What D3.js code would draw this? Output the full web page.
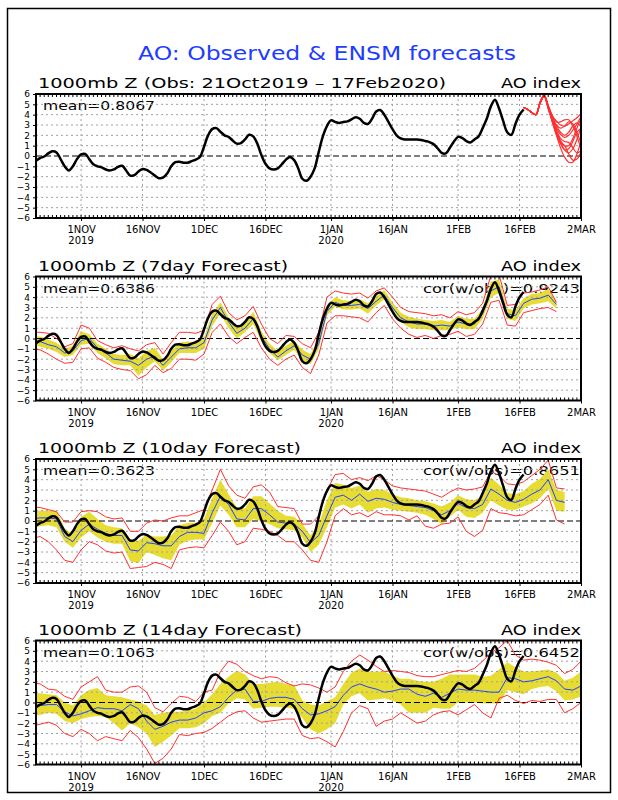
<!DOCTYPE html>
<html>
<head>
<meta charset="utf-8">
<script src="https://cdn.jsdelivr.net/npm/d3@7"></script>
<style>
  body { margin: 0; background: #fff; }
  svg { display: block; }
  text { font-family: "DejaVu Sans", sans-serif; }
</style>
</head>
<body>
<svg id="chart"></svg>
<script>
// ---- data ----
const startDate = new Date(2019, 9, 21);
const endDate = new Date(2020, 2, 2);

// observed daily AO index, 21Oct2019 .. 17Feb2020
const obsAO = [
  -0.45, -0.2, -0.05, 0.25, 0.45, 0.35, -0.3, -1.0, -1.4, -1.0,
  -0.3, 0.15, 0.2, -0.3, -0.8, -1.0, -1.1, -1.3, -1.4, -1.3,
  -1.05, -0.95, -1.4, -1.9, -1.85, -1.5, -1.25, -1.35, -1.6, -1.9,
  -2.15, -2.1, -1.7, -1.0, -0.6, -0.55, -0.65, -0.65, -0.5, -0.35,
  -0.1, 0.9, 2.0, 2.6, 2.7, 2.35, 2.0, 1.85, 1.5, 1.2,
  1.25, 1.6, 2.05, 1.9, 1.2, 0.1, -0.75, -1.2, -1.3, -1.2,
  -0.8, -0.35, -0.1, -0.4, -1.2, -2.2, -2.4, -2.0, -1.2, 0.4,
  1.9, 2.9, 3.45, 3.3, 3.2, 3.3, 3.35, 3.55, 3.75, 3.6,
  3.2, 3.1, 3.6, 4.3, 4.45, 4.0, 3.3, 2.6, 2.0, 1.7,
  1.6, 1.6, 1.6, 1.6, 1.55, 1.45, 1.35, 1.15, 0.75, 0.3,
  0.25, 0.8, 1.4, 1.85, 1.75, 1.45, 1.3, 1.6, 1.9, 2.7,
  3.6, 4.8, 5.45, 4.6, 3.4, 2.3, 2.05, 3.1, 4.0, 4.5
];

// ensemble members of the latest forecast, 17Feb .. 2Mar
const memberAO = [
  [4.7, 4.5, 4.2, 4.0, 5.2, 5.9, 4.9, 3.9, 3.4, 3.0, 2.9, 3.1, 3.4, 3.7, 4.1],
  [4.7, 4.5, 4.2, 4.0, 5.1, 5.9, 4.8, 3.6, 2.7, 2.1, 1.8, 2.0, 2.5, 3.1, 3.8],
  [4.7, 4.5, 4.2, 4.0, 5.1, 5.8, 4.7, 3.4, 2.3, 1.3, 0.6, 0.3, 0.7, 1.6, 2.8],
  [4.7, 4.5, 4.2, 4.0, 5.1, 5.8, 4.6, 3.3, 2.0, 0.8, -0.1, -0.6, -0.6, 0.2, 1.4],
  [4.7, 4.5, 4.2, 4.0, 5.2, 5.9, 4.8, 3.7, 3.0, 2.7, 2.9, 3.3, 3.1, 2.3, 1.2],
  [4.7, 4.5, 4.2, 4.0, 5.2, 5.9, 4.9, 3.9, 3.3, 3.3, 3.5, 3.5, 2.9, 1.9, 0.7],
  [4.7, 4.5, 4.2, 4.0, 5.1, 5.8, 4.6, 3.4, 2.2, 1.2, 0.6, 0.7, 1.4, 2.3, 2.7],
  [4.7, 4.5, 4.2, 4.0, 5.1, 5.8, 4.7, 3.5, 2.5, 1.7, 1.4, 1.3, 0.8, 0.3, 0.5],
  [4.7, 4.5, 4.2, 4.0, 5.2, 5.9, 4.8, 3.8, 2.9, 2.3, 2.0, 2.3, 2.9, 3.2, 2.8],
  [4.7, 4.5, 4.2, 4.0, 5.1, 5.8, 4.7, 3.5, 2.4, 1.5, 1.0, 1.0, 1.7, 2.7, 3.6],
  [4.7, 4.5, 4.2, 4.0, 5.1, 5.8, 4.6, 3.3, 2.1, 1.3, 1.0, 0.2, -0.4, -0.3, 0.4]
];

// forecasts: one value every second day, first value on 20Oct2019
const fc7Mean = [-0.2, -0.3, -0.6, -0.8, -1.4, -1.2, -0.2, 0.0, -0.9, -1.4, -2.0, -2.1, -2.2, -2.6, -2.0, -1.7, -2.6, -1.8, -1.0, -0.9, -0.9, -0.4, 1.8, 3.0, 1.6, 0.5, 1.0, 1.9, 0.2, -1.0, -1.8, -1.2, -0.7, -1.6, -2.0, -0.5, 2.6, 3.5, 3.2, 3.2, 3.3, 2.9, 3.6, 4.2, 3.0, 2.0, 1.6, 1.4, 1.4, 1.2, 1.3, 1.2, 1.6, 1.4, 1.4, 2.4, 4.6, 5.0, 2.4, 2.2, 3.4, 3.8, 3.9, 4.2, 3.3];
const fc7SdLo = [-0.6, -0.8, -1.0, -1.3, -1.8, -1.6, -0.6, -0.5, -1.4, -1.9, -2.5, -2.6, -2.6, -3.6, -2.8, -2.2, -3.1, -2.3, -1.4, -1.4, -1.4, -1.0, 1.2, 2.4, 1.0, 0.0, 0.6, 1.4, -0.3, -1.4, -2.1, -1.6, -1.1, -2.2, -2.5, -1.0, 2.2, 3.1, 2.8, 2.8, 2.9, 2.4, 3.2, 3.8, 2.6, 1.6, 1.1, 0.9, 0.9, 0.8, 0.8, 0.8, 1.1, 0.9, 0.9, 1.9, 4.0, 4.4, 1.9, 1.7, 2.9, 3.3, 3.4, 3.6, 2.9];
const fc7SdHi = [0.2, 0.2, -0.1, -0.4, -1.0, -0.7, 0.7, 0.4, -0.5, -1.0, -1.5, -1.6, -1.5, -1.9, -1.2, -0.9, -2.0, -1.2, -0.4, -0.3, -0.4, 0.1, 2.4, 3.5, 2.1, 1.1, 1.5, 2.6, 0.7, -0.5, -1.2, -0.7, -0.2, -1.1, -1.5, 0.0, 3.2, 4.0, 3.7, 3.6, 3.8, 3.4, 4.1, 4.7, 3.5, 2.5, 2.1, 1.9, 1.8, 1.7, 1.8, 1.6, 2.2, 1.9, 1.9, 2.9, 5.5, 5.7, 2.9, 2.7, 3.9, 4.3, 4.4, 4.8, 3.6];
const fc7Min = [-1.0, -1.1, -1.5, -2.0, -2.4, -2.3, -1.0, -0.9, -1.9, -2.3, -2.8, -3.0, -3.1, -3.9, -3.5, -2.6, -3.3, -2.9, -2.0, -2.0, -2.1, -1.5, 0.6, 1.4, 0.2, -0.5, 0.1, 0.6, -0.9, -2.0, -2.6, -2.0, -1.6, -2.8, -3.4, -1.6, 1.5, 2.2, 2.2, 2.1, 2.0, 1.6, 2.5, 3.2, 1.9, 1.0, 0.4, 0.1, 0.3, 0.0, 0.3, 0.4, 0.7, 0.2, 0.4, 1.4, 3.5, 3.7, 1.3, 1.2, 2.5, 2.7, 2.9, 3.0, 2.6];
const fc7Max = [0.6, 0.6, 0.5, 0.0, -0.8, -0.5, 1.3, 1.0, -0.2, -0.6, -0.9, -0.7, -1.0, -1.2, -0.6, -0.4, -1.5, -0.4, 0.6, 0.6, 0.5, 0.8, 3.3, 4.1, 2.5, 1.8, 2.2, 3.1, 1.4, 0.0, -0.5, 0.3, 0.2, -0.5, -0.9, 0.6, 4.0, 4.6, 4.4, 4.3, 4.4, 3.9, 4.6, 4.9, 4.0, 3.0, 2.6, 2.5, 2.4, 2.2, 2.3, 2.0, 2.6, 2.3, 2.5, 3.4, 6.1, 6.2, 3.2, 3.3, 4.4, 4.5, 4.7, 5.0, 3.5];

const fc10Mean = [0.2, 0.3, 0.3, 0.2, -1.5, -2.0, -0.9, -0.3, -0.8, -1.2, -1.4, -1.4, -2.8, -2.9, -2.1, -2.2, -2.4, -2.4, -1.5, -1.1, -1.1, -1.2, 0.8, 2.4, 1.6, 0.2, 0.1, 1.2, 1.2, 0.6, -0.1, -0.2, -0.3, -1.0, -2.1, -1.4, 0.5, 2.3, 2.5, 2.0, 2.6, 1.9, 2.2, 2.1, 1.8, 1.6, 1.5, 1.4, 1.3, 1.0, 0.6, 1.0, 1.7, 1.3, 1.2, 1.6, 3.1, 2.6, 2.0, 1.8, 2.1, 2.6, 3.0, 4.0, 2.0, 1.8];
const fc10SdLo = [-0.6, -0.5, -0.4, -0.6, -2.0, -2.6, -1.6, -1.0, -1.6, -2.0, -2.2, -2.2, -3.9, -4.1, -3.0, -3.3, -3.6, -3.8, -2.3, -1.9, -1.8, -1.8, -0.2, 1.5, 0.6, -0.6, -0.6, 0.2, 0.0, -0.3, -0.7, -0.8, -0.9, -1.6, -3.0, -2.3, -0.6, 1.3, 1.6, 1.2, 1.6, 0.8, 1.2, 1.3, 1.1, 1.0, 0.9, 0.8, 0.6, 0.2, -0.3, 0.4, 1.1, 0.4, 0.3, 0.8, 2.0, 1.5, 1.1, 1.1, 1.4, 1.7, 2.2, 3.1, 1.0, 0.9];
const fc10SdHi = [1.0, 1.0, 1.0, 1.0, -0.7, -1.3, 0.4, 0.9, 0.2, -0.4, -0.6, -0.7, -1.8, -1.9, -1.3, -1.5, -1.5, -1.4, -0.4, -0.2, -0.2, 0.2, 2.2, 4.0, 2.6, 1.3, 1.2, 2.4, 2.4, 1.7, 1.0, 0.5, 0.4, -0.3, -1.4, -0.3, 2.0, 3.7, 3.5, 3.2, 3.4, 2.8, 3.1, 3.0, 2.6, 2.3, 2.2, 2.0, 1.9, 1.7, 1.4, 1.8, 2.5, 2.1, 2.0, 2.5, 4.2, 3.5, 2.7, 2.6, 2.9, 3.6, 4.1, 5.0, 3.0, 2.8];
const fc10Min = [-1.7, -1.5, -2.0, -2.8, -3.8, -4.0, -2.8, -2.0, -2.3, -2.9, -3.1, -3.0, -4.6, -4.5, -4.4, -4.0, -4.2, -4.6, -2.8, -2.6, -2.5, -2.6, -1.4, -0.1, -1.0, -2.3, -2.0, -0.7, -0.8, -1.0, -1.4, -2.0, -2.0, -2.8, -3.8, -4.0, -2.0, 0.5, 1.2, 0.6, 0.8, 0.4, 0.9, 0.6, 0.6, 0.5, 0.1, 0.5, -0.5, -0.7, -0.3, -0.2, 0.4, -1.0, -1.5, -0.9, 1.2, 0.8, 0.7, 0.5, 0.6, 1.1, 1.6, 2.5, 0.1, -0.3];
const fc10Max = [1.4, 1.3, 1.1, 0.9, -0.1, -0.1, 0.9, 1.0, 0.9, 0.4, 0.2, 0.3, -1.0, -1.0, -0.2, 0.1, 0.0, 0.3, 0.5, 0.5, 0.8, 1.1, 3.0, 5.0, 3.4, 2.5, 2.2, 3.3, 3.5, 2.8, 1.4, 1.3, 1.2, -0.3, -0.3, 0.5, 3.0, 4.5, 4.6, 4.0, 4.2, 3.9, 4.4, 4.0, 3.4, 3.2, 3.1, 3.0, 2.9, 2.6, 2.3, 2.8, 3.2, 3.0, 3.1, 3.3, 4.8, 4.4, 3.6, 3.5, 3.8, 4.4, 5.0, 5.9, 3.2, 3.1];

const fc14Mean = [-0.3, -0.3, -0.2, -0.2, -0.9, -1.3, -1.1, -0.8, -0.5, -0.6, -0.6, -0.8, -0.2, -0.6, -1.8, -2.6, -2.3, -1.9, -1.7, -1.7, -1.5, -1.0, -0.8, -0.4, 0.5, 1.2, 1.3, 0.1, 0.1, 0.4, 0.5, 0.5, 0.3, -0.6, -1.2, -1.1, -0.8, -0.4, 0.7, 1.5, 1.8, 1.5, 1.3, 1.0, 1.1, 1.3, 1.3, 0.8, 0.6, 0.9, 0.5, 0.9, 1.3, 1.2, 1.2, 1.1, 1.0, 1.0, 2.4, 2.3, 2.0, 2.1, 2.3, 2.5, 2.1, 1.3, 1.2, 1.6];
const fc14SdLo = [-1.2, -1.2, -1.0, -1.1, -1.8, -2.0, -1.6, -1.4, -1.3, -1.4, -2.0, -2.7, -2.0, -2.4, -3.0, -4.3, -3.8, -3.2, -2.5, -2.5, -2.4, -2.0, -1.3, -1.0, -0.1, 0.4, 0.3, -0.6, -0.5, -0.4, -0.4, -0.5, -0.6, -1.5, -2.6, -3.0, -2.6, -2.0, -0.2, 0.6, 0.9, 0.2, 0.3, 0.4, 0.2, -0.2, -1.0, -1.0, -1.0, -0.5, -0.6, -0.6, 0.0, 0.0, 0.0, -0.1, -0.1, -0.1, 1.2, 1.0, 0.8, 1.3, 1.5, 1.6, 1.1, 0.2, 0.3, 0.6];
const fc14SdHi = [0.9, 0.9, 0.8, 0.7, 0.0, -0.3, 0.7, 1.2, 1.4, 0.7, 0.6, 0.5, 0.3, 0.1, -0.3, -1.2, -1.0, -0.9, -0.9, -0.8, -0.6, 0.0, 0.8, 1.8, 2.5, 3.1, 2.7, 1.8, 1.8, 1.9, 2.0, 1.8, 1.7, 0.2, -0.2, -0.3, 0.1, 0.5, 1.8, 2.9, 3.3, 3.0, 3.0, 3.0, 2.6, 2.3, 2.3, 2.1, 2.0, 2.0, 2.3, 2.7, 2.7, 2.7, 2.7, 2.5, 2.6, 3.2, 3.9, 3.4, 3.0, 3.0, 3.1, 3.2, 2.9, 2.1, 2.4, 3.0];
const fc14Min = [-2.3, -2.1, -1.9, -2.2, -3.0, -3.3, -2.6, -3.0, -3.7, -3.3, -3.5, -3.7, -2.7, -3.4, -4.5, -5.9, -5.4, -4.5, -3.1, -3.2, -3.0, -2.9, -2.5, -1.9, -1.3, -0.9, -0.8, -1.5, -1.9, -1.8, -1.7, -1.6, -1.6, -3.2, -3.5, -3.4, -3.8, -4.3, -2.8, -1.0, -0.3, -0.6, -2.3, -1.8, -1.6, -1.0, -1.5, -2.0, -1.8, -1.2, -0.9, -0.8, -1.2, -0.7, -0.2, -1.0, -1.5, 0.4, 0.7, 0.2, -0.1, 0.2, 0.1, 0.3, 0.3, -1.0, -0.6, 0.0];
const fc14Max = [1.9, 1.8, 1.3, 1.2, 0.6, 0.3, 1.5, 2.0, 2.5, 1.2, 1.0, 1.0, 1.5, 1.6, 1.0, -0.5, -0.9, -0.1, 0.6, 0.5, 0.1, 1.0, 1.2, 3.0, 4.0, 3.7, 3.0, 2.6, 2.3, 2.5, 2.4, 1.9, 1.6, 1.8, 1.7, 1.4, 1.0, 1.5, 3.0, 4.0, 4.6, 4.1, 3.5, 3.0, 3.1, 3.0, 2.9, 2.6, 2.5, 2.5, 2.7, 2.9, 3.1, 3.0, 3.3, 4.0, 4.8, 5.3, 6.0, 4.6, 4.1, 4.2, 4.1, 3.9, 3.6, 2.8, 3.2, 4.0];

const panelTitles = [
  "1000mb Z (Obs: 21Oct2019 \u2013 17Feb2020)",
  "1000mb Z (7day Forecast)",
  "1000mb Z (10day Forecast)",
  "1000mb Z (14day Forecast)"
];
const meanLabels = ["mean=0.8067", "mean=0.6386", "mean=0.3623", "mean=0.1063"];
const corLabels = [null, "cor(w/obs)=0.9243", "cor(w/obs)=0.8651", "cor(w/obs)=0.6452"];

const tickDates = [
  new Date(2019, 10, 1), new Date(2019, 10, 16), new Date(2019, 11, 1),
  new Date(2019, 11, 16), new Date(2020, 0, 1), new Date(2020, 0, 16),
  new Date(2020, 1, 1), new Date(2020, 1, 16), new Date(2020, 2, 2)
];
const tickLabels = ["1NOV", "16NOV", "1DEC", "16DEC", "1JAN", "16JAN", "1FEB", "16FEB", "2MAR"];
const tickYears = ["2019", "", "", "", "2020", "", "", "", ""];
const yTicks = [-6, -5, -4, -3, -2, -1, 0, 1, 2, 3, 4, 5, 6];

// ---- layout ----
const W = 618, H = 800;
const plotL = 36, plotR = 581, plotH = 124;
const panelTop = [94, 276.5, 459, 640.5];
const titleWidths = [408, 250, 263, 264];

const svg = d3.select("#chart").attr("width", W).attr("height", H);
svg.append("rect").attr("width", W).attr("height", H).attr("fill", "#fff");
svg.append("rect")
  .attr("x", 7.5).attr("y", 8.5).attr("width", 603).attr("height", 784)
  .attr("fill", "none").attr("stroke", "#000").attr("stroke-width", 1.5);

svg.append("text")
  .attr("x", 138).attr("y", 60)
  .attr("textLength", 378).attr("lengthAdjust", "spacingAndGlyphs")
  .attr("font-size", 20).attr("fill", "#1e3cff")
  .text("AO: Observed & ENSM forecasts");

const x = d3.scaleTime().domain([startDate, endDate]).range([plotL, plotR]);

const obs = obsAO.map((v, i) => ({ date: d3.timeDay.offset(startDate, i), v }));
const members = memberAO.map((m) =>
  m.map((v, i) => ({ date: d3.timeDay.offset(startDate, 119 + i), v }))
);

function fcSeries(mean, sdLo, sdHi, min, max) {
  return mean.map((v, k) => ({
    date: d3.timeDay.offset(startDate, -1 + 2 * k),
    mean: v, lo: sdLo[k], hi: sdHi[k], min: min[k], max: max[k]
  }));
}
const forecasts = [
  null,
  fcSeries(fc7Mean, fc7SdLo, fc7SdHi, fc7Min, fc7Max),
  fcSeries(fc10Mean, fc10SdLo, fc10SdHi, fc10Min, fc10Max),
  fcSeries(fc14Mean, fc14SdLo, fc14SdHi, fc14Min, fc14Max)
];

panelTitles.forEach((title, i) => {
  const top = panelTop[i], bottom = top + plotH;
  const y = d3.scaleLinear().domain([-6, 6]).range([bottom, top]);
  const g = svg.append("g");

  g.append("clipPath").attr("id", "clip" + i)
    .append("rect")
    .attr("x", plotL).attr("y", top)
    .attr("width", plotR - plotL).attr("height", plotH);

  // titles
  g.append("text")
    .attr("x", 38).attr("y", top - 6)
    .attr("textLength", titleWidths[i]).attr("lengthAdjust", "spacingAndGlyphs")
    .attr("font-size", 14).text(title);
  g.append("text")
    .attr("x", 501).attr("y", top - 6)
    .attr("textLength", 80).attr("lengthAdjust", "spacingAndGlyphs")
    .attr("font-size", 14).text("AO index");

  g.append("text")
    .attr("x", 43).attr("y", top + 16)
    .attr("textLength", 112).attr("lengthAdjust", "spacingAndGlyphs")
    .attr("font-size", 13).text(meanLabels[i]);
  if (corLabels[i]) {
    g.append("text")
      .attr("x", 423).attr("y", top + 16)
      .attr("textLength", 157).attr("lengthAdjust", "spacingAndGlyphs")
      .attr("font-size", 13).text(corLabels[i]);
  }

  const plot = g.append("g").attr("clip-path", `url(#clip${i})`);
  const fc = forecasts[i];

  // ensemble spread band
  if (fc) {
    plot.append("path")
      .datum(fc)
      .attr("fill", "#e6dc32")
      .attr("d", d3.area()
        .x((d) => x(d.date))
        .y0((d) => y(d.lo))
        .y1((d) => y(d.hi)));
  }

  // grid
  plot.selectAll(".hgrid")
    .data(yTicks.filter((t) => t !== 0 && Math.abs(t) < 6))
    .join("line")
    .attr("x1", plotL).attr("x2", plotR)
    .attr("y1", (d) => y(d)).attr("y2", (d) => y(d))
    .attr("stroke", "#a0a0a0").attr("stroke-dasharray", "2,3");
  plot.selectAll(".vgrid")
    .data(tickDates.slice(0, -1))
    .join("line")
    .attr("x1", (d) => x(d)).attr("x2", (d) => x(d))
    .attr("y1", top).attr("y2", bottom)
    .attr("stroke", "#a0a0a0").attr("stroke-dasharray", "2,3");
  plot.append("line")
    .attr("x1", plotL).attr("x2", plotR)
    .attr("y1", y(0)).attr("y2", y(0))
    .attr("stroke", "#000").attr("stroke-dasharray", "6,3");

  if (fc) {
    const lineOf = (key) => d3.line().x((d) => x(d.date)).y((d) => y(d[key]));
    ["min", "max"].forEach((key) => {
      plot.append("path").datum(fc)
        .attr("fill", "none").attr("stroke", "#ff3030").attr("stroke-width", 1)
        .attr("d", lineOf(key));
    });
    plot.append("path").datum(fc)
      .attr("fill", "none").attr("stroke", "#2244ff").attr("stroke-width", 1)
      .attr("d", lineOf("mean"));
  }

  // observed
  plot.append("path").datum(obs)
    .attr("fill", "none").attr("stroke", "#000").attr("stroke-width", 2.5)
    .attr("stroke-linejoin", "round")
    .attr("d", d3.line().curve(d3.curveCatmullRom)
      .x((d) => x(d.date)).y((d) => y(d.v)));

  // latest ensemble members
  if (i === 0) {
    members.forEach((m) => {
      plot.append("path").datum(m)
        .attr("fill", "none").attr("stroke", "#ff3030").attr("stroke-width", 1.2)
        .attr("d", d3.line().curve(d3.curveCatmullRom)
          .x((d) => x(d.date)).y((d) => y(d.v)));
    });
  }

  // frame + daily minor ticks
  g.append("rect")
    .attr("x", plotL).attr("y", top)
    .attr("width", plotR - plotL).attr("height", plotH)
    .attr("fill", "none").attr("stroke", "#000").attr("stroke-width", 2);
  const days = d3.timeDay.range(startDate, endDate);
  g.selectAll(".mt").data(days).join("line")
    .attr("x1", (d) => x(d)).attr("x2", (d) => x(d))
    .attr("y1", top).attr("y2", top + 3)
    .attr("stroke", "#000");
  g.selectAll(".mb").data(days).join("line")
    .attr("x1", (d) => x(d)).attr("x2", (d) => x(d))
    .attr("y1", bottom - 3).attr("y2", bottom)
    .attr("stroke", "#000");

  // axes
  g.append("g")
    .attr("transform", `translate(${plotL},0)`)
    .call(d3.axisLeft(y).tickValues(yTicks).tickSize(3)
      .tickFormat((d) => (d < 0 ? "\u2212" + -d : d)))
    .call((a) => a.select(".domain").remove())
    .selectAll("text")
    .attr("font-family", "DejaVu Sans, sans-serif")
    .attr("font-size", 9);

  const xa = g.append("g")
    .attr("transform", `translate(0,${bottom})`)
    .call(d3.axisBottom(x).tickValues(tickDates).tickSize(3)
      .tickFormat((d, k) => tickLabels[k]));
  xa.select(".domain").remove();
  xa.selectAll("text")
    .attr("y", 15).attr("dy", null)
    .attr("font-family", "DejaVu Sans, sans-serif")
    .attr("font-size", 10);
  tickDates.forEach((d, k) => {
    if (!tickYears[k]) return;
    g.append("text")
      .attr("x", x(d)).attr("y", bottom + 26)
      .attr("text-anchor", "middle").attr("font-size", 10)
      .text(tickYears[k]);
  });
});
</script>
</body>
</html>
